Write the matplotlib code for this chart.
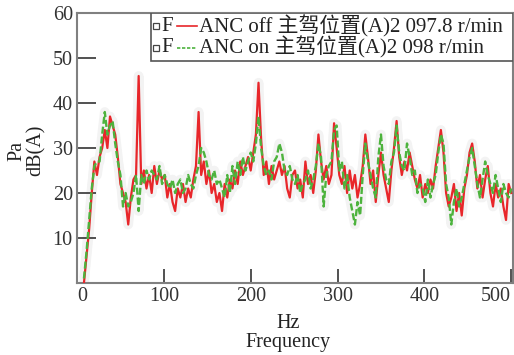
import numpy as np
import matplotlib
matplotlib.use("Agg")
import matplotlib.pyplot as plt
from matplotlib.patches import Rectangle

plt.rcParams['font.family'] = ['Liberation Serif', 'Noto Sans CJK SC']

# frequency grid (Hz) and the two spectra in dB(A)
freq = np.arange(8, 501, 3)

anc_off = [0, 6, 12, 20, 27, 24, 28, 30, 34, 30,
           37, 35, 33, 28, 22, 20, 18, 13, 19, 23,
           24, 46, 22, 25, 21, 24, 20, 26, 22, 25,
           23, 24, 19, 22, 18, 16, 21, 19, 22, 18,
           21, 19, 23, 26, 38, 24, 27, 22, 25, 20,
           22, 18, 20, 16, 22, 19, 23, 21, 25, 22,
           27, 24, 26, 28, 25, 29, 33, 44.5, 32, 24,
           27, 22, 26, 23, 25, 27, 24, 26, 21, 19,
           24, 25, 21, 23, 19, 27, 22, 24, 20, 25,
           33, 27, 23, 26, 22, 24, 35.5, 30, 24, 22,
           26, 20, 25, 21, 24, 19, 22, 26, 33, 28,
           22, 25, 18, 24, 29, 24, 21, 18, 25, 30,
           36, 28, 24, 27, 25, 29, 26, 23, 21, 24,
           19, 22, 20, 23, 21, 26, 30, 34, 29, 20,
           17, 19, 22, 16, 20, 15, 21, 24, 29, 31,
           27, 21, 24, 19, 23, 26, 20, 17, 22, 19,
           21, 17, 14, 22, 20]

anc_on = [1, 7, 14, 21, 26, 27, 27, 33, 38, 33,
          35, 36, 31, 27, 24, 17, 20, 17, 18, 20,
          24, 16, 24, 22, 25, 23, 25, 24, 23, 26,
          22, 24, 22, 21, 23, 20, 22, 23, 20, 21,
          24, 22, 21, 24, 26, 30, 29, 27, 24, 23,
          25, 22, 23, 21, 19, 24, 20, 26, 22, 27,
          24, 28, 25, 27, 29, 27, 31, 37, 30, 26,
          24, 25, 23, 27, 28, 31, 29, 25, 24, 26,
          23, 22, 24, 20, 22, 23, 25, 21, 23, 26,
          31, 28, 17, 24, 26, 27, 34, 35, 25, 27,
          21, 24, 19, 16, 13, 18, 15, 24, 31, 27,
          24, 21, 19, 28, 33, 26, 23, 22, 27, 29,
          35, 29, 26, 25, 31, 28, 24, 25, 20, 22,
          21, 18, 23, 19, 22, 24, 29, 33, 31, 22,
          19, 13, 18, 21, 17, 19, 22, 25, 28, 30,
          26, 22, 19, 23, 27, 24, 22, 20, 24, 21,
          18, 22, 20, 19, 21]

labels = ["ANC off 主驾位置(A)2 097.8 r/min", "ANC on 主驾位置(A)2 098 r/min"]
colors = ["#e8262a", "#4db33d"]

fig = plt.figure(figsize=(5.14, 3.55), dpi=100)
ax = fig.add_axes([0.1498, 0.2028, 0.8482, 0.7606])

# faint grey halo behind the traces
ax.plot(freq, anc_off, color="#f3f3f3", lw=7, zorder=1, solid_capstyle="butt")
ax.plot(freq, anc_on, color="#f3f3f3", lw=7, zorder=1, solid_capstyle="butt")
ax.plot(freq, anc_off, color=colors[0], lw=1.6, zorder=3)
ax.plot(freq, anc_on, color=colors[1], lw=1.7, ls=(0, (3, 1.2)), zorder=4)

ax.set_xlim(0, 502)
ax.set_ylim(0, 60)
ax.set_xticks([0, 100, 200, 300, 400, 500])
ax.set_yticks([10, 20, 30, 40, 50, 60])
ax.tick_params(axis="both", direction="in", labelsize=14.5, colors="#333333", width=1.2)
ax.tick_params(axis="x", length=10, pad=3)
ax.tick_params(axis="y", length=14, pad=3)
tl = ax.get_xticklabels()
tl[0].set_ha("left")
tl[-1].set_ha("right")
for s in ax.spines.values():
    s.set_color("#808080")
    s.set_linewidth(1.5)

ax.set_xlabel("Hz\nFrequency", fontsize=14.5, linespacing=1.0, color="#222222")
ax.xaxis.set_label_coords(0.485, -0.115, transform=ax.transAxes)
ax.xaxis.label.set_va("top")
ax.set_ylabel("Pa\ndB(A)", fontsize=14.5, linespacing=1.0, color="#222222")
ax.yaxis.set_label_coords(-0.072, 0.49)

# legend box
ax.add_patch(Rectangle((0.170, 0.822), 0.830, 0.178, transform=ax.transAxes,
                       facecolor="white", edgecolor="#555555", lw=1.2, zorder=6))
for k, yy in enumerate([0.950, 0.872]):
    ax.plot([0.181], [yy], marker="s", ms=4, mfc="white", mec="#444444", mew=0.9,
            transform=ax.transAxes, zorder=7, clip_on=False)
    ax.text(0.194, yy, "F", transform=ax.transAxes, fontsize=15, va="center",
            ha="left", zorder=7, color="#222222")
    ax.plot([0.229, 0.275], [yy, yy], color=colors[k], lw=1.2,
            ls="-" if k == 0 else (0, (2, 1)), transform=ax.transAxes, zorder=7)
    ax.text(0.280, yy, labels[k], transform=ax.transAxes, fontsize=15, va="center",
            ha="left", zorder=7, color="#222222")

fig.savefig("out.png", dpi=100)
